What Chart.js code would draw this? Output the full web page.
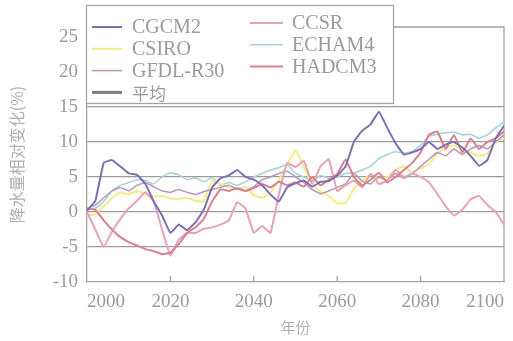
<!DOCTYPE html>
<html><head><meta charset="utf-8">
<script src="https://cdn.jsdelivr.net/npm/chart.js@4.4.1/dist/chart.umd.min.js"></script>
<style>html,body{margin:0;padding:0;background:#fff;}#wrap{width:513px;height:341px;}</style>
</head><body><div id="wrap"><canvas id="c" width="513" height="341"></canvas></div>
<script>
const years = [2000,2002,2004,2006,2008,2010,2012,2014,2016,2018,2020,2022,2024,2026,2028,2030,2032,2034,2036,2038,2040,2042,2044,2046,2048,2050,2052,2054,2056,2058,2060,2062,2064,2066,2068,2070,2072,2074,2076,2078,2080,2082,2084,2086,2088,2090,2092,2094,2096,2098,2100];
const cgcm2 = [0.2,1.6,7.0,7.4,6.5,5.5,5.3,4.0,1.5,-0.5,-3.0,-1.8,-2.6,-1.5,0.3,3.5,4.8,5.2,6.0,5.0,4.6,3.8,2.5,1.5,3.5,4.1,4.5,3.6,4.3,4.4,5.2,6.5,10.0,11.6,12.5,14.3,12.0,9.8,8.2,8.5,9.0,10.0,9.0,9.6,10.0,9.2,8.0,6.6,7.4,10.5,12.3];
const csiro = [-0.5,-0.3,0.8,2.0,2.8,2.5,3.0,2.6,2.2,2.3,1.9,1.9,2.0,1.6,1.5,4.5,4.0,3.5,3.2,3.6,2.4,2.0,2.8,4.6,6.8,8.8,6.4,4.0,2.9,2.3,1.2,1.3,3.3,4.5,5.3,4.8,5.0,6.0,6.5,5.6,6.2,6.8,8.3,9.1,9.5,9.0,8.5,8.0,8.3,10.0,10.5];
const gfdl = [0.5,1.0,2.0,3.0,3.5,3.0,3.8,4.2,3.6,3.0,2.8,3.2,2.8,2.5,2.9,3.2,3.5,3.8,3.3,3.0,3.6,4.6,5.0,5.5,5.8,5.0,4.2,3.2,2.6,3.0,3.5,4.0,5.5,4.4,4.0,5.0,4.5,5.5,4.8,5.5,6.5,7.5,8.5,8.0,9.0,8.2,9.0,9.5,9.0,10.0,11.0];
const average = [];
const ccsr = [0.0,-2.5,-5.0,-2.8,-1.0,0.5,1.6,2.8,1.5,-2.5,-6.2,-4.0,-3.0,-3.0,-2.4,-2.2,-1.8,-1.2,1.4,0.5,-3.0,-2.0,-3.0,2.5,7.0,6.4,7.3,4.0,6.5,7.5,3.0,3.8,4.5,3.5,5.5,4.0,4.5,6.0,5.0,5.5,5.0,4.2,2.6,0.8,-0.5,0.3,1.8,2.3,1.0,0.0,-1.8];
const echam4 = [0.3,0.5,1.5,3.0,3.8,4.2,4.6,4.5,4.0,5.0,5.6,5.3,4.6,4.9,4.3,4.9,3.8,4.2,3.8,4.3,5.0,5.5,6.0,6.3,6.8,5.5,5.0,4.5,5.2,4.8,5.0,5.5,5.6,6.0,6.5,7.6,8.2,8.6,8.4,8.6,9.5,10.8,11.1,11.3,11.4,11.0,11.1,10.5,11.0,12.0,12.8];
const hadcm3 = [0.5,0.3,-1.2,-2.5,-3.6,-4.3,-4.8,-5.3,-5.6,-6.0,-5.8,-4.6,-3.0,-2.2,-1.0,1.5,3.2,3.0,3.4,3.0,3.4,4.0,3.5,4.3,3.8,4.2,3.6,5.0,3.8,4.6,5.4,7.5,5.0,3.8,4.6,5.6,4.2,5.0,6.0,7.0,8.5,11.0,11.5,9.0,11.0,8.5,10.5,9.0,10.0,10.5,11.5];
const seriesNames = ['CGCM2','CSIRO','GFDL-R30','平均','CCSR','ECHAM4','HADCM3'];
const yTickValues = [-10,-5,0,5,10,15,20,25];
const xTickValues = [2000,2020,2040,2060,2080,2100];
const gridValues = [-5,0,5,10,15];

const seriesValues = [cgcm2, csiro, gfdl, average, ccsr, echam4, hadcm3];
const colors = ['#7d70b2','#f2ec86','#b99cbc','#808080','#e6a3b6','#a9d2da','#d8808f'];
const widths = [2,2,1.6,3,2,1.6,2];

const datasets = seriesNames.map((name, k) => ({
  label: name,
  data: seriesValues[k].map((v, i) => ({x: years[i], y: v})),
  borderColor: colors[k],
  backgroundColor: colors[k],
  borderWidth: widths[k],
  pointRadius: 0,
  tension: 0.1,
  fill: false
}));
const order = [5,1,2,4,6,0,3];
datasets.forEach((d, k) => d.order = 10 - order.indexOf(k));

const GRAY = '#a3a3a3';
const TXT = '#9b9b9b';

const framePlugin = {
  id: 'frame',
  beforeDatasetsDraw(chart) {
    const {ctx, chartArea: a} = chart;
    ctx.save();
    ctx.strokeStyle = GRAY; ctx.lineWidth = 1.3;
    ctx.beginPath();
    ctx.moveTo(a.left, a.top); ctx.lineTo(a.right, a.top); ctx.lineTo(a.right, a.bottom);
    ctx.stroke();
    const xs = chart.scales.x;
    xs.ticks.forEach(t => {
      if (t.value <= xs.min || t.value >= xs.max) return;
      const px = xs.getPixelForValue(t.value);
      ctx.beginPath(); ctx.moveTo(px, a.bottom); ctx.lineTo(px, a.bottom - 6); ctx.stroke();
    });
    ctx.restore();
  },
  afterDraw(chart) {
    const {ctx} = chart;
    ctx.save();
    ctx.fillStyle = '#fff';
    ctx.fillRect(86, 5, 307, 98);
    ctx.strokeStyle = GRAY; ctx.lineWidth = 1.3;
    ctx.strokeRect(86.5, 5.5, 307, 98);
    const ds = chart.data.datasets;
    ctx.textBaseline = 'middle';
    ds.forEach((d, k) => {
      const col = k < 4 ? 0 : 1;
      const row = k < 4 ? k : k - 4;
      const lx = col === 0 ? 92 : 250;
      const lw = col === 0 ? 30 : 33;
      const tx = col === 0 ? 132 : 292;
      const y = (col === 0 ? 27 : 23) + row * 21.8;
      ctx.strokeStyle = d.borderColor;
      ctx.lineWidth = Math.max(1.6, d.borderWidth);
      ctx.beginPath(); ctx.moveTo(lx, y); ctx.lineTo(lx + lw, y); ctx.stroke();
      ctx.fillStyle = TXT;
      ctx.font = /[\u4e00-\u9fff]/.test(d.label) ? '17px "Noto Sans CJK SC"' : '20px "Liberation Serif"';
      ctx.fillText(d.label, tx, y + 1);
    });
    ctx.restore();
  }
};

new Chart(document.getElementById('c'), {
  type: 'line',
  data: {datasets},
  options: {
    responsive: false,
    animation: false,
    devicePixelRatio: 1,
    layout: {padding: {top: 27, right: 3, left: 0, bottom: 0}},
    plugins: {legend: {display: false}, tooltip: {enabled: false}},
    scales: {
      x: {
        type: 'linear', min: 2000, max: 2100,
        afterBuildTicks: s => { s.ticks = xTickValues.map(v => ({value: v})); },
        afterFit: s => { s.height = 59; },
        ticks: {align: 'inner', padding: 9, maxRotation: 0, autoSkip: false,
          font: {family: 'Liberation Serif', size: 19}, color: TXT, callback: v => String(v)},
        grid: {display: false, drawTicks: false},
        border: {display: true, color: GRAY, width: 1.3},
        title: {display: true, text: '年份', color: '#b0b0b0',
          font: {family: 'Noto Sans CJK SC', size: 15}, padding: {top: 0, bottom: 5}}
      },
      y: {
        type: 'linear', min: -10, max: 26.4,
        afterBuildTicks: s => { s.ticks = yTickValues.map(v => ({value: v})); },
        afterFit: s => { s.width = 87; },
        ticks: {padding: 9, font: {family: 'Liberation Serif', size: 19}, color: TXT},
        grid: {drawTicks: false, lineWidth: 1.3,
          color: c => (c.tick && gridValues.includes(c.tick.value)) ? '#9c9c9c' : 'rgba(0,0,0,0)'},
        border: {display: true, color: GRAY, width: 1.3},
        title: {display: true, text: '降水量相对变化(%)', color: '#b0b0b0',
          font: {family: 'Noto Sans CJK SC', size: 16}, padding: {top: 7, bottom: 0}}
      }
    }
  },
  plugins: [framePlugin]
});
</script>
</body></html>
